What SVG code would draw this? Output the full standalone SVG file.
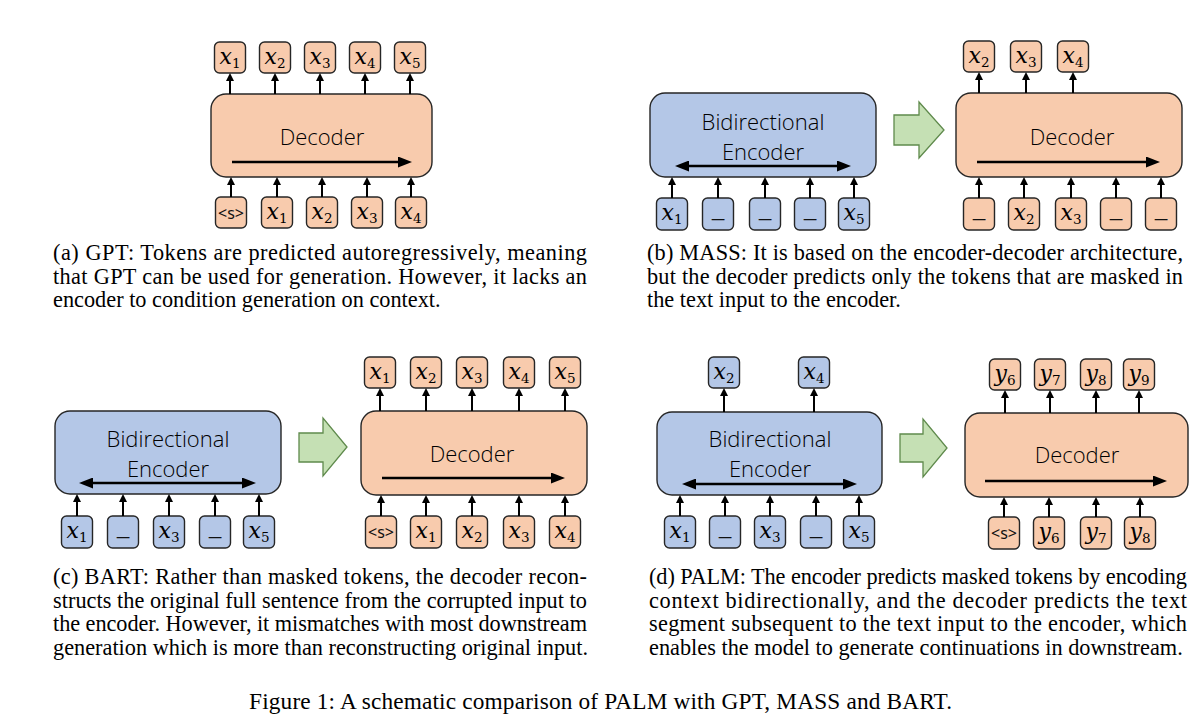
<svg xmlns="http://www.w3.org/2000/svg" width="1202" height="721" viewBox="0 0 1202 721">
<style>
.pe{fill:#F8CBAD;stroke:#262626;stroke-width:1.4}
.bl{fill:#B4C7E7;stroke:#262626;stroke-width:1.4}
.gr{fill:#C5E0B4;stroke:#5f8a4c;stroke-width:1.3}
.lbl{font-family:"Open Sans","Noto Sans",sans-serif;font-weight:300;font-size:22px;fill:#000;text-anchor:middle}
.m{font-family:"DejaVu Serif",serif;font-style:italic;font-size:22px;fill:#000;text-anchor:middle}
.sub{font-style:normal;font-size:13.5px}
.s{font-family:"Noto Sans",sans-serif;font-size:16px;fill:#111;text-anchor:middle}
.u{font-family:"Liberation Sans",sans-serif;font-size:22px;fill:#111;text-anchor:middle}
.cap{font-family:"Liberation Serif","Times New Roman",serif;font-size:22.3px;fill:#000}
.fig{font-family:"Liberation Serif","Times New Roman",serif;font-size:23.3px;fill:#000}
.c line{stroke:#000;stroke-width:2;marker-end:url(#ah)}
.c .big{stroke-width:2.6;marker-end:url(#bh)}
.c .dbl{stroke-width:2.6;marker-start:url(#bh);marker-end:url(#bh)}
</style>
<defs>
<marker id="ah" markerUnits="userSpaceOnUse" markerWidth="8" markerHeight="8" viewBox="0 0 8 8" refX="3" refY="4" orient="auto"><path d="M0,0 L8,4 L0,8 z" fill="#000"/></marker>
<marker id="bh" markerUnits="userSpaceOnUse" markerWidth="14" markerHeight="11" viewBox="0 0 14 11" refX="5" refY="5.5" orient="auto-start-reverse"><path d="M0,0 L14,5.5 L0,11 z" fill="#000"/></marker>
</defs>

<!-- ================= Panel (a) ================= -->
<g id="a-decoder"><rect class="pe" x="211" y="94" width="221" height="83" rx="15"/><text class="lbl" x="322" y="145">Decoder</text></g>
<g id="a-out1"><rect class="pe" x="214.5" y="42" width="31" height="31" rx="5"/><text class="m" x="230" y="63.5">x<tspan class="sub" dy="4">1</tspan></text></g>
<g id="a-out2"><rect class="pe" x="259.5" y="42" width="31" height="31" rx="5"/><text class="m" x="275" y="63.5">x<tspan class="sub" dy="4">2</tspan></text></g>
<g id="a-out3"><rect class="pe" x="304.5" y="42" width="31" height="31" rx="5"/><text class="m" x="320" y="63.5">x<tspan class="sub" dy="4">3</tspan></text></g>
<g id="a-out4"><rect class="pe" x="349.5" y="42" width="31" height="31" rx="5"/><text class="m" x="365" y="63.5">x<tspan class="sub" dy="4">4</tspan></text></g>
<g id="a-out5"><rect class="pe" x="394.5" y="42" width="31" height="31" rx="5"/><text class="m" x="410" y="63.5">x<tspan class="sub" dy="4">5</tspan></text></g>
<g id="a-in0"><rect class="pe" x="215.5" y="197" width="31" height="31" rx="5"/><text class="s" x="231" y="218.5">&lt;s&gt;</text></g>
<g id="a-in1"><rect class="pe" x="261.5" y="197" width="31" height="31" rx="5"/><text class="m" x="277" y="218.5">x<tspan class="sub" dy="4">1</tspan></text></g>
<g id="a-in2"><rect class="pe" x="306.5" y="197" width="31" height="31" rx="5"/><text class="m" x="322" y="218.5">x<tspan class="sub" dy="4">2</tspan></text></g>
<g id="a-in3"><rect class="pe" x="351.5" y="197" width="31" height="31" rx="5"/><text class="m" x="367" y="218.5">x<tspan class="sub" dy="4">3</tspan></text></g>
<g id="a-in4"><rect class="pe" x="395.5" y="197" width="31" height="31" rx="5"/><text class="m" x="411" y="218.5">x<tspan class="sub" dy="4">4</tspan></text></g>

<!-- ================= Panel (b) ================= -->
<g id="b-encoder"><rect class="bl" x="650" y="93" width="226" height="84" rx="15"/><text class="lbl" x="763" y="130">Bidirectional</text><text class="lbl" x="763" y="160">Encoder</text></g>
<g id="b-ein1"><rect class="bl" x="656.5" y="198" width="31" height="32" rx="5"/><text class="m" x="672" y="219.5">x<tspan class="sub" dy="4">1</tspan></text></g>
<g id="b-ein2"><rect class="bl" x="702.5" y="198" width="31" height="32" rx="5"/><text class="u" x="718" y="216">_</text></g>
<g id="b-ein3"><rect class="bl" x="749.5" y="198" width="31" height="32" rx="5"/><text class="u" x="765" y="216">_</text></g>
<g id="b-ein4"><rect class="bl" x="794.5" y="198" width="31" height="32" rx="5"/><text class="u" x="810" y="216">_</text></g>
<g id="b-ein5"><rect class="bl" x="838.5" y="198" width="31" height="32" rx="5"/><text class="m" x="854" y="219.5">x<tspan class="sub" dy="4">5</tspan></text></g>
<g id="b-flow"><path class="gr" d="M894,115 H919 V102 L944,130 L919,158 V145 H894 Z"/></g>
<g id="b-decoder"><rect class="pe" x="956" y="93" width="226" height="84" rx="15"/><text class="lbl" x="1072" y="145">Decoder</text></g>
<g id="b-out2"><rect class="pe" x="963.5" y="41" width="31" height="31" rx="5"/><text class="m" x="979" y="62.5">x<tspan class="sub" dy="4">2</tspan></text></g>
<g id="b-out3"><rect class="pe" x="1010.5" y="41" width="31" height="31" rx="5"/><text class="m" x="1026" y="62.5">x<tspan class="sub" dy="4">3</tspan></text></g>
<g id="b-out4"><rect class="pe" x="1057.5" y="41" width="31" height="31" rx="5"/><text class="m" x="1073" y="62.5">x<tspan class="sub" dy="4">4</tspan></text></g>
<g id="b-din1"><rect class="pe" x="963.5" y="198" width="31" height="32" rx="5"/><text class="u" x="979" y="216">_</text></g>
<g id="b-din2"><rect class="pe" x="1008.5" y="198" width="31" height="32" rx="5"/><text class="m" x="1024" y="219.5">x<tspan class="sub" dy="4">2</tspan></text></g>
<g id="b-din3"><rect class="pe" x="1055.5" y="198" width="31" height="32" rx="5"/><text class="m" x="1071" y="219.5">x<tspan class="sub" dy="4">3</tspan></text></g>
<g id="b-din4"><rect class="pe" x="1100.5" y="198" width="31" height="32" rx="5"/><text class="u" x="1116" y="216">_</text></g>
<g id="b-din5"><rect class="pe" x="1145.5" y="198" width="31" height="32" rx="5"/><text class="u" x="1161" y="216">_</text></g>

<!-- ================= Panel (c) ================= -->
<g id="c-encoder"><rect class="bl" x="55" y="411" width="226" height="83" rx="15"/><text class="lbl" x="168" y="447">Bidirectional</text><text class="lbl" x="168" y="477">Encoder</text></g>
<g id="c-ein1"><rect class="bl" x="61.5" y="516" width="31" height="32" rx="5"/><text class="m" x="77" y="537.5">x<tspan class="sub" dy="4">1</tspan></text></g>
<g id="c-ein2"><rect class="bl" x="107.5" y="516" width="31" height="32" rx="5"/><text class="u" x="123" y="534">_</text></g>
<g id="c-ein3"><rect class="bl" x="153.5" y="516" width="31" height="32" rx="5"/><text class="m" x="169" y="537.5">x<tspan class="sub" dy="4">3</tspan></text></g>
<g id="c-ein4"><rect class="bl" x="199.5" y="516" width="31" height="32" rx="5"/><text class="u" x="215" y="534">_</text></g>
<g id="c-ein5"><rect class="bl" x="243.5" y="516" width="31" height="32" rx="5"/><text class="m" x="259" y="537.5">x<tspan class="sub" dy="4">5</tspan></text></g>
<g id="c-flow"><path class="gr" d="M299,433 H323 V418 L347,447 L323,476 V462 H299 Z"/></g>
<g id="c-decoder"><rect class="pe" x="361" y="411" width="226" height="84" rx="15"/><text class="lbl" x="472" y="462">Decoder</text></g>
<g id="c-out1"><rect class="pe" x="364.5" y="357" width="31" height="31" rx="5"/><text class="m" x="380" y="378.5">x<tspan class="sub" dy="4">1</tspan></text></g>
<g id="c-out2"><rect class="pe" x="410.5" y="357" width="31" height="31" rx="5"/><text class="m" x="426" y="378.5">x<tspan class="sub" dy="4">2</tspan></text></g>
<g id="c-out3"><rect class="pe" x="456.5" y="357" width="31" height="31" rx="5"/><text class="m" x="472" y="378.5">x<tspan class="sub" dy="4">3</tspan></text></g>
<g id="c-out4"><rect class="pe" x="503.5" y="357" width="31" height="31" rx="5"/><text class="m" x="519" y="378.5">x<tspan class="sub" dy="4">4</tspan></text></g>
<g id="c-out5"><rect class="pe" x="549.5" y="357" width="31" height="31" rx="5"/><text class="m" x="565" y="378.5">x<tspan class="sub" dy="4">5</tspan></text></g>
<g id="c-din0"><rect class="pe" x="365.5" y="516" width="31" height="32" rx="5"/><text class="s" x="381" y="537.5">&lt;s&gt;</text></g>
<g id="c-din1"><rect class="pe" x="410.5" y="516" width="31" height="32" rx="5"/><text class="m" x="426" y="537.5">x<tspan class="sub" dy="4">1</tspan></text></g>
<g id="c-din2"><rect class="pe" x="456.5" y="516" width="31" height="32" rx="5"/><text class="m" x="472" y="537.5">x<tspan class="sub" dy="4">2</tspan></text></g>
<g id="c-din3"><rect class="pe" x="503.5" y="516" width="31" height="32" rx="5"/><text class="m" x="519" y="537.5">x<tspan class="sub" dy="4">3</tspan></text></g>
<g id="c-din4"><rect class="pe" x="549.5" y="516" width="31" height="32" rx="5"/><text class="m" x="565" y="537.5">x<tspan class="sub" dy="4">4</tspan></text></g>

<!-- ================= Panel (d) ================= -->
<g id="d-encoder"><rect class="bl" x="657" y="412" width="225" height="83" rx="15"/><text class="lbl" x="770" y="447">Bidirectional</text><text class="lbl" x="770" y="477">Encoder</text></g>
<g id="d-eout2"><rect class="bl" x="708.5" y="357" width="31" height="31" rx="5"/><text class="m" x="724" y="378.5">x<tspan class="sub" dy="4">2</tspan></text></g>
<g id="d-eout4"><rect class="bl" x="798.5" y="357" width="31" height="31" rx="5"/><text class="m" x="814" y="378.5">x<tspan class="sub" dy="4">4</tspan></text></g>
<g id="d-ein1"><rect class="bl" x="664.5" y="516" width="31" height="32" rx="5"/><text class="m" x="680" y="537.5">x<tspan class="sub" dy="4">1</tspan></text></g>
<g id="d-ein2"><rect class="bl" x="709.5" y="516" width="31" height="32" rx="5"/><text class="u" x="725" y="534">_</text></g>
<g id="d-ein3"><rect class="bl" x="754.5" y="516" width="31" height="32" rx="5"/><text class="m" x="770" y="537.5">x<tspan class="sub" dy="4">3</tspan></text></g>
<g id="d-ein4"><rect class="bl" x="800.5" y="516" width="31" height="32" rx="5"/><text class="u" x="816" y="534">_</text></g>
<g id="d-ein5"><rect class="bl" x="843.5" y="516" width="31" height="32" rx="5"/><text class="m" x="859" y="537.5">x<tspan class="sub" dy="4">5</tspan></text></g>
<g id="d-flow"><path class="gr" d="M900,434 H923 V419 L947,448 L923,477 V462 H900 Z"/></g>
<g id="d-decoder"><rect class="pe" x="965" y="413" width="223" height="84" rx="15"/><text class="lbl" x="1077" y="463">Decoder</text></g>
<g id="d-out6"><rect class="pe" x="989.5" y="359" width="31" height="31" rx="5"/><text class="m" x="1005" y="380.5">y<tspan class="sub" dy="4">6</tspan></text></g>
<g id="d-out7"><rect class="pe" x="1034.5" y="359" width="31" height="31" rx="5"/><text class="m" x="1050" y="380.5">y<tspan class="sub" dy="4">7</tspan></text></g>
<g id="d-out8"><rect class="pe" x="1080.5" y="359" width="31" height="31" rx="5"/><text class="m" x="1096" y="380.5">y<tspan class="sub" dy="4">8</tspan></text></g>
<g id="d-out9"><rect class="pe" x="1123.5" y="359" width="31" height="31" rx="5"/><text class="m" x="1139" y="380.5">y<tspan class="sub" dy="4">9</tspan></text></g>
<g id="d-din0"><rect class="pe" x="988.5" y="517" width="31" height="32" rx="5"/><text class="s" x="1004" y="538.5">&lt;s&gt;</text></g>
<g id="d-din6"><rect class="pe" x="1033.5" y="517" width="31" height="32" rx="5"/><text class="m" x="1049" y="538.5">y<tspan class="sub" dy="4">6</tspan></text></g>
<g id="d-din7"><rect class="pe" x="1080.5" y="517" width="31" height="32" rx="5"/><text class="m" x="1096" y="538.5">y<tspan class="sub" dy="4">7</tspan></text></g>
<g id="d-din8"><rect class="pe" x="1124.5" y="517" width="31" height="32" rx="5"/><text class="m" x="1140" y="538.5">y<tspan class="sub" dy="4">8</tspan></text></g>

<!-- ================= Connectors ================= -->
<g id="connectors" class="c">
<line x1="230" y1="94" x2="230" y2="78"/><line x1="275" y1="94" x2="275" y2="78"/><line x1="320" y1="94" x2="320" y2="78"/><line x1="365" y1="94" x2="365" y2="78"/><line x1="410" y1="94" x2="410" y2="78"/>
<line x1="231" y1="197" x2="231" y2="182"/><line x1="277" y1="197" x2="277" y2="182"/><line x1="322" y1="197" x2="322" y2="182"/><line x1="367" y1="197" x2="367" y2="182"/><line x1="411" y1="197" x2="411" y2="182"/>
<line class="big" x1="232" y1="162" x2="403" y2="162"/>
<line x1="672" y1="198" x2="672" y2="182"/><line x1="718" y1="198" x2="718" y2="182"/><line x1="765" y1="198" x2="765" y2="182"/><line x1="810" y1="198" x2="810" y2="182"/><line x1="854" y1="198" x2="854" y2="182"/>
<line class="dbl" x1="684" y1="166" x2="842" y2="166"/>
<line x1="979" y1="93" x2="979" y2="77"/><line x1="1026" y1="93" x2="1026" y2="77"/><line x1="1073" y1="93" x2="1073" y2="77"/>
<line x1="979" y1="198" x2="979" y2="182"/><line x1="1024" y1="198" x2="1024" y2="182"/><line x1="1071" y1="198" x2="1071" y2="182"/><line x1="1116" y1="198" x2="1116" y2="182"/><line x1="1161" y1="198" x2="1161" y2="182"/>
<line class="big" x1="977" y1="162" x2="1151" y2="162"/>
<line x1="77" y1="516" x2="77" y2="499"/><line x1="123" y1="516" x2="123" y2="499"/><line x1="169" y1="516" x2="169" y2="499"/><line x1="215" y1="516" x2="215" y2="499"/><line x1="259" y1="516" x2="259" y2="499"/>
<line class="dbl" x1="88" y1="483" x2="247" y2="483"/>
<line x1="380" y1="411" x2="380" y2="393"/><line x1="426" y1="411" x2="426" y2="393"/><line x1="472" y1="411" x2="472" y2="393"/><line x1="519" y1="411" x2="519" y2="393"/><line x1="565" y1="411" x2="565" y2="393"/>
<line x1="381" y1="516" x2="381" y2="500"/><line x1="426" y1="516" x2="426" y2="500"/><line x1="472" y1="516" x2="472" y2="500"/><line x1="519" y1="516" x2="519" y2="500"/><line x1="565" y1="516" x2="565" y2="500"/>
<line class="big" x1="382" y1="478" x2="556" y2="478"/>
<line x1="724" y1="412" x2="724" y2="393"/><line x1="814" y1="412" x2="814" y2="393"/>
<line x1="680" y1="516" x2="680" y2="500"/><line x1="725" y1="516" x2="725" y2="500"/><line x1="770" y1="516" x2="770" y2="500"/><line x1="816" y1="516" x2="816" y2="500"/><line x1="859" y1="516" x2="859" y2="500"/>
<line class="dbl" x1="691" y1="484" x2="848" y2="484"/>
<line x1="1005" y1="413" x2="1005" y2="395"/><line x1="1050" y1="413" x2="1050" y2="395"/><line x1="1096" y1="413" x2="1096" y2="395"/><line x1="1139" y1="413" x2="1139" y2="395"/>
<line x1="1004" y1="517" x2="1004" y2="502"/><line x1="1049" y1="517" x2="1049" y2="502"/><line x1="1096" y1="517" x2="1096" y2="502"/><line x1="1140" y1="517" x2="1140" y2="502"/>
<line class="big" x1="985" y1="481" x2="1158" y2="481"/>
</g>

<!-- ================= Captions ================= -->
<g id="caption-a" class="cap">
<text x="53" y="260" textLength="534" lengthAdjust="spacing">(a) GPT: Tokens are predicted autoregressively, meaning</text>
<text x="53" y="283.5" textLength="534" lengthAdjust="spacing">that GPT can be used for generation. However, it lacks an</text>
<text x="53" y="307">encoder to condition generation on context.</text>
</g>
<g id="caption-b" class="cap">
<text x="647" y="260" textLength="536" lengthAdjust="spacing">(b) MASS: It is based on the encoder-decoder architecture,</text>
<text x="647" y="283.5" textLength="536" lengthAdjust="spacing">but the decoder predicts only the tokens that are masked in</text>
<text x="647" y="307">the text input to the encoder.</text>
</g>
<g id="caption-c" class="cap">
<text x="53" y="584" textLength="534" lengthAdjust="spacing">(c) BART: Rather than masked tokens, the decoder recon-</text>
<text x="53" y="607.5" textLength="534" lengthAdjust="spacing">structs the original full sentence from the corrupted input to</text>
<text x="53" y="631" textLength="534" lengthAdjust="spacing">the encoder. However, it mismatches with most downstream</text>
<text x="53" y="654.5">generation which is more than reconstructing original input.</text>
</g>
<g id="caption-d" class="cap">
<text x="649" y="584" textLength="538" lengthAdjust="spacing">(d) PALM: The encoder predicts masked tokens by encoding</text>
<text x="649" y="607.5" textLength="538" lengthAdjust="spacing">context bidirectionally, and the decoder predicts the text</text>
<text x="649" y="631" textLength="538" lengthAdjust="spacing">segment subsequent to the text input to the encoder, which</text>
<text x="649" y="654.5">enables the model to generate continuations in downstream.</text>
</g>
<text id="figure-caption" class="fig" x="249" y="709" textLength="703" lengthAdjust="spacing">Figure 1: A schematic comparison of PALM with GPT, MASS and BART.</text>
</svg>
